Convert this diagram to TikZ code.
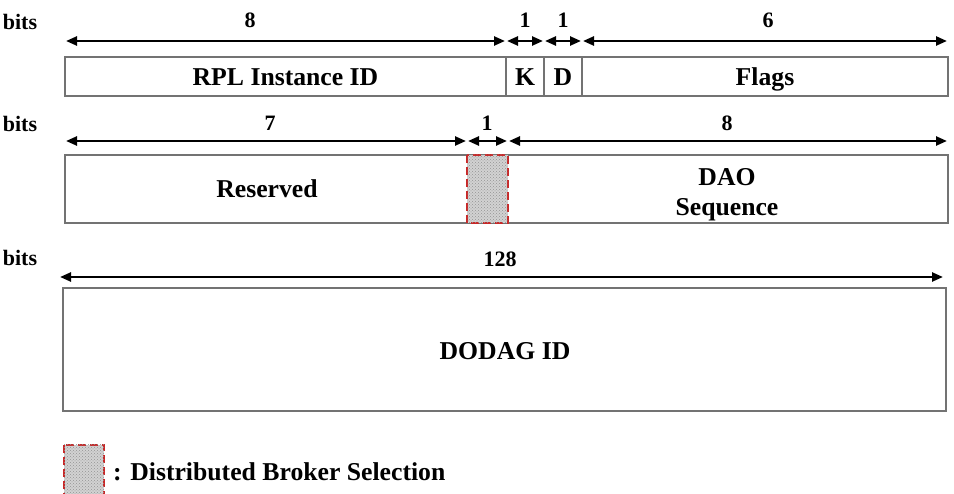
\documentclass[tikz,border=0pt]{standalone}
\usepackage{fontspec}
\setmainfont{Liberation Serif}
\usetikzlibrary{arrows.meta,patterns}
\definecolor{boxgray}{RGB}{115,115,115}
\definecolor{brokerred}{RGB}{200,40,40}
\begin{document}
\begin{tikzpicture}[x=1pt,y=-1pt,
  dim/.style={{Triangle[length=11pt,width=9pt]}-{Triangle[length=11pt,width=9pt]}, line width=2.4pt, black},
  field/.style={draw=boxgray, line width=1.8pt, fill=white},
  numlbl/.style={font=\fontsize{22}{26}\selectfont\bfseries, inner sep=0pt, anchor=base},
  fieldlbl/.style={font=\fontsize{25.7}{30}\selectfont\bfseries, inner sep=0pt, anchor=base},
  hatchbox/.style={draw=brokerred, dash pattern=on 8pt off 4pt, line width=2.4pt, fill=gray!35, postaction={pattern=crosshatch dots, pattern color=gray!85}}]
\useasboundingbox (0,0) rectangle (954,494);
% ---------- Row 1 ----------
\node[numlbl] (b1) at (20,30) {bits};
\coordinate (r1a) at (65,41); \coordinate (r1b) at (506,41); \coordinate (r1c) at (544,41);
\coordinate (r1d) at (582,41); \coordinate (r1e) at (948,41);
\draw[dim, shorten <=1pt, shorten >=1pt] (r1a) -- (r1b);
\draw[dim, shorten <=1pt, shorten >=1pt] (r1b) -- (r1c);
\draw[dim, shorten <=1pt, shorten >=1pt] (r1c) -- (r1d);
\draw[dim, shorten <=1pt, shorten >=1pt] (r1d) -- (r1e);
\node[numlbl] (n8a) at (250,28) {8};
\node[numlbl] (n1a) at (525,28) {1};
\node[numlbl] (n1b) at (563,28) {1};
\node[numlbl] (n6) at (768,28) {6};
\draw[field] (65,57) rectangle (506,96);
\draw[field] (506,57) rectangle (544,96);
\draw[field] (544,57) rectangle (582,96);
\draw[field] (582,57) rectangle (948,96);
\node[fieldlbl] (rpl) at (285.5,86) {RPL Instance ID};
\node[fieldlbl] (k) at (525,86) {K};
\node[fieldlbl] (d) at (563,86) {D};
\node[fieldlbl] (flags) at (765,86) {Flags};
% ---------- Row 2 ----------
\node[numlbl] (b2) at (20,132) {bits};
\coordinate (r2a) at (65,141); \coordinate (r2b) at (467,141); \coordinate (r2c) at (508,141);
\coordinate (r2d) at (948,141);
\draw[dim, shorten <=1pt, shorten >=1pt] (r2a) -- (r2b);
\draw[dim, shorten <=1pt, shorten >=1pt] (r2b) -- (r2c);
\draw[dim, shorten <=1pt, shorten >=1pt] (r2c) -- (r2d);
\node[numlbl] (n7) at (270,131) {7};
\node[numlbl] (n1c) at (487,131) {1};
\node[numlbl] (n8b) at (727,131) {8};
\draw[field] (65,155) rectangle (948,223);
\draw[hatchbox] (467,155) rectangle (508,223);
\node[fieldlbl] (res) at (267,198) {Reserved};
\node[fieldlbl] (dao) at (727,186) {DAO};
\node[fieldlbl] (seq) at (727,216) {Sequence};
% ---------- Row 3 ----------
\node[numlbl] (b3) at (20,266) {bits};
\coordinate (r3a) at (60,277); \coordinate (r3b) at (943,277);
\draw[dim] (r3a) -- (r3b);
\node[numlbl] (n128) at (500,267) {128};
\draw[field] (63,288) rectangle (946,411);
\node[fieldlbl] (dodag) at (505,360) {DODAG ID};
% ---------- Legend ----------
\draw[hatchbox] (64,445) rectangle (104,500);
\node[fieldlbl, anchor=base west] (leg) at (113,480) {: Distributed Broker Selection};
\end{tikzpicture}
\end{document}
